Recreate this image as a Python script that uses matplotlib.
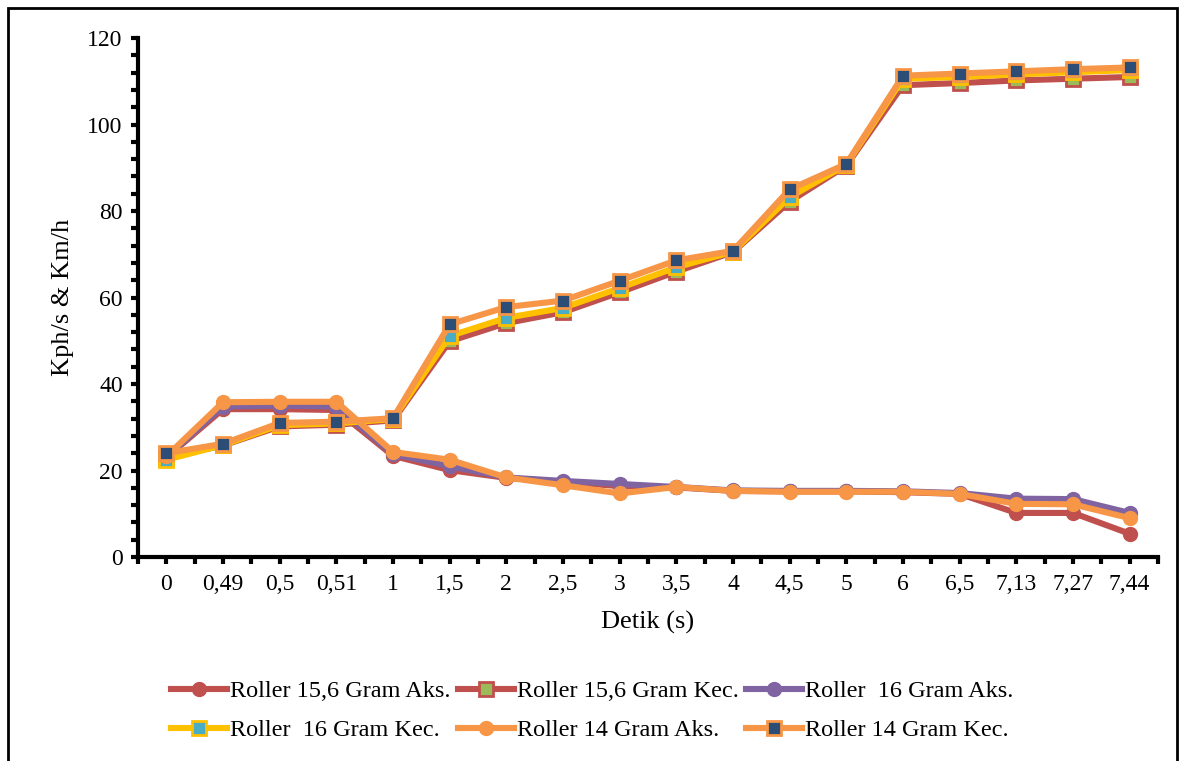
import numpy as np
import matplotlib
matplotlib.use('Agg')
import matplotlib.pyplot as plt
from matplotlib.patches import Rectangle
from matplotlib.ticker import MultipleLocator

# ── Data ─────────────────────────────────────────────────────────
detik = ["0", "0,49", "0,5", "0,51", "1", "1,5", "2", "2,5", "3", "3,5",
         "4", "4,5", "5", "6", "6,5", "7,13", "7,27", "7,44"]

r156_aks = [23.0, 34.2, 34.2, 34.0, 23.4, 20.1, 18.3, 17.4, 16.4, 16.1,
            15.3, 15.2, 15.2, 15.0, 14.6, 10.2, 10.2, 5.4]
r156_kec = [23.0, 25.8, 30.2, 30.6, 31.6, 49.9, 54.1, 56.6, 61.2, 66.0,
            70.5, 82.2, 90.5, 109.1, 109.6, 110.2, 110.6, 111.0]
r16_aks = [23.2, 34.8, 35.0, 34.8, 23.8, 21.0, 18.4, 17.6, 16.9, 16.2,
           15.4, 15.3, 15.3, 15.2, 14.8, 13.5, 13.4, 10.2]
r16_kec = [22.5, 25.9, 30.5, 30.9, 31.9, 51.1, 55.3, 57.6, 62.2, 67.0,
           70.6, 83.2, 90.7, 110.6, 111.0, 111.6, 112.1, 112.6]
r14_aks = [23.3, 35.8, 35.9, 35.9, 24.3, 22.5, 18.4, 16.6, 14.7, 16.2,
           15.3, 15.1, 15.1, 15.1, 14.6, 12.3, 12.2, 9.0]
r14_kec = [24.0, 26.2, 31.0, 31.3, 32.1, 53.8, 57.8, 59.3, 63.9, 68.6,
           70.8, 85.0, 90.9, 111.3, 111.8, 112.3, 112.8, 113.2]

labels = ["Roller 15,6 Gram Aks.", "Roller 15,6 Gram Kec.", "Roller  16 Gram Aks.",
          "Roller  16 Gram Kec.", "Roller 14 Gram Aks.", "Roller 14 Gram Kec."]

plt.rcParams['font.family'] = ['Liberation Serif', 'DejaVu Serif']

fig = plt.figure(figsize=(11.84, 7.61), dpi=100, facecolor='white')
ax = fig.add_axes([0.1166, 0.268, 0.8614, 0.682])

x = np.arange(len(detik))
lw = 4.4
styles = [
    (r156_aks, dict(color='#C0504D', marker='o', markersize=10,
                    markerfacecolor='#C0504D', markeredgecolor='#C0504D')),
    (r156_kec, dict(color='#C0504D', marker='s', markersize=10,
                    markerfacecolor='#9BBB59', markeredgecolor='#C0504D', markeredgewidth=2)),
    (r16_aks, dict(color='#8064A2', marker='o', markersize=10,
                   markerfacecolor='#8064A2', markeredgecolor='#8064A2')),
    (r16_kec, dict(color='#FFC000', marker='s', markersize=10,
                   markerfacecolor='#4BACC6', markeredgecolor='#FFC000', markeredgewidth=2)),
    (r14_aks, dict(color='#F79646', marker='o', markersize=10,
                   markerfacecolor='#F79646', markeredgecolor='#F79646')),
    (r14_kec, dict(color='#F79646', marker='s', markersize=10,
                   markerfacecolor='#2C4D75', markeredgecolor='#F79646', markeredgewidth=2)),
]

handles = []
for (vals, st), lab in zip(styles, labels):
    h, = ax.plot(x, vals, linewidth=lw, label=lab, solid_joinstyle='round', **st)
    handles.append(h)

# ── Axes ─────────────────────────────────────────────────────────
ax.set_xlim(-0.5, len(detik) - 0.5)
ax.set_ylim(0, 120)
ax.set_xticks(x)
ax.set_xticklabels(detik, fontsize=17)
ax.xaxis.set_minor_locator(MultipleLocator(0.5))
ax.yaxis.set_major_locator(MultipleLocator(20))
ax.yaxis.set_minor_locator(MultipleLocator(4))
ax.tick_params(axis='y', labelsize=17, pad=6)
ax.tick_params(which='both', direction='out', width=3, length=5, color='black')
ax.tick_params(axis='x', which='major', pad=7)
for side in ['top', 'right']:
    ax.spines[side].set_visible(False)
for side in ['left', 'bottom']:
    ax.spines[side].set_linewidth(3)

ax.set_xlabel('Detik (s)', fontsize=19, labelpad=12)
ax.set_ylabel('Kph/s & Km/h', fontsize=19, labelpad=10)

# legend: 2 rows x 3, filled column-wise
order = [0, 3, 1, 4, 2, 5]
fig.legend([handles[i] for i in order], [labels[i] for i in order],
           loc='center', bbox_to_anchor=(0.5, 0.066), ncol=3,
           fontsize=17.5, frameon=False, handlelength=2.3, handletextpad=0.12,
           columnspacing=0.3, labelspacing=0.7)

# outer frame
fig.patches.append(Rectangle((8 / 1184, -0.02), 1169 / 1184, 1.02 - 8 / 761,
                             transform=fig.transFigure, fill=False,
                             edgecolor='black', linewidth=2))

fig.savefig('out.png', dpi=100, facecolor='white')
